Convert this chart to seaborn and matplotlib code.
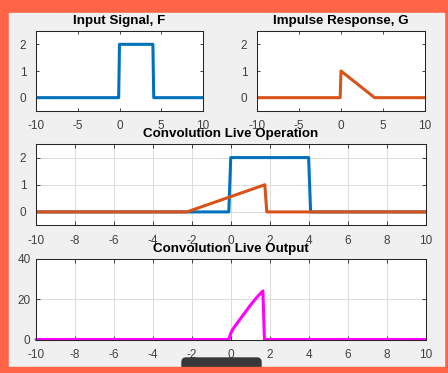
import matplotlib
matplotlib.use('Agg')
import matplotlib.pyplot as plt
import seaborn as sns
from matplotlib.patches import Rectangle, FancyBboxPatch

# input signal F
f_x = [-10, -0.1, 0, 4, 4.1, 10]
f_y = [0, 0, 2, 2, 0, 0]
# impulse response G
g_x = [-10, -0.1, 0, 4, 10]
g_y = [0, 0, 1, 0, 0]
# flipped / shifted G at the current step
gs_x = [-10, -2.25, 1.75, 1.85, 10]
gs_y = [0, 0, 1, 0, 0]
# convolution output so far
out_x = [-10, -0.1, 0.0, 0.1, 0.5, 1.0, 1.3, 1.65, 1.73, 10]
out_y = [0, 0, 3.0, 5.0, 10.3, 16.8, 20.4, 24, 0, 0]

titles = ['Input Signal, F', 'Impulse Response, G',
          'Convolution Live Operation', 'Convolution Live Output']

blue = '#0072BD'
orange = '#D95319'
magenta = '#FF00FF'
dark = '#262626'

sns.set_style('ticks')
plt.rcParams['font.family'] = ['Liberation Sans', 'DejaVu Sans']
plt.rcParams['axes.unicode_minus'] = False

W, H = 448, 373
fig = plt.figure(figsize=(W / 100, H / 100), dpi=100, facecolor='#FF6447')
fig.patches.append(Rectangle((9 / W, 1 - 367 / H), 435 / W, 354 / H,
                             transform=fig.transFigure, color='#F0F0F0', zorder=-10))


def box(l, t, r, b):
    return [l / W, 1 - b / H, (r - l) / W, (b - t) / H]


ax1 = fig.add_axes(box(36, 31, 203, 111))
ax2 = fig.add_axes(box(257, 31, 425, 111))
ax3 = fig.add_axes(box(36, 144, 425.5, 225.5))
ax4 = fig.add_axes(box(36, 258.5, 425.5, 339.5))

lw = 2.2
sns.lineplot(x=f_x, y=f_y, ax=ax1, color=blue, linewidth=lw)
sns.lineplot(x=g_x, y=g_y, ax=ax2, color=orange, linewidth=lw)
sns.lineplot(x=f_x, y=f_y, ax=ax3, color=blue, linewidth=lw)
sns.lineplot(x=gs_x, y=gs_y, ax=ax3, color=orange, linewidth=lw)
sns.lineplot(x=out_x, y=out_y, ax=ax4, color=magenta, linewidth=lw, clip_on=False)

for i, ax in enumerate([ax1, ax2, ax3, ax4]):
    ax.set_facecolor('white')
    ax.set_xlim(-10, 10)
    for s in ax.spines.values():
        s.set_visible(True)
        s.set_color(dark)
        s.set_linewidth(0.75)
    ax.set_title(titles[i], fontsize=9.6, fontweight='bold', color='black', pad=4.8)
    ax.set_xlabel('')
    ax.set_ylabel('')
    small = i < 2
    ax.tick_params(direction='in', top=True, right=True, length=2 if small else 3,
                   width=0.6, colors=dark, labelsize=8.5, labelcolor='#404040')
    ax.tick_params(axis='x', pad=6.5)
    ax.tick_params(axis='y', pad=4 if i == 3 else 7)

for ax in [ax1, ax2]:
    ax.set_xticks([-10, -5, 0, 5, 10])
for ax in [ax1, ax2, ax3]:
    ax.set_ylim(-0.5, 2.5)
    ax.set_yticks([0, 1, 2])
for ax in [ax3, ax4]:
    ax.set_xticks(range(-10, 11, 2))
    ax.grid(True, color='#DCDCDC', linewidth=0.7)
    ax.set_axisbelow(True)
ax4.set_ylim(0, 40)
ax4.set_yticks([0, 20, 40])

# dark tab at the bottom edge of the window
tab = FancyBboxPatch((182 / 100, (H - 372) / 100), 79 / 100, 14 / 100,
                     boxstyle='round,pad=0,rounding_size=0.04',
                     transform=fig.dpi_scale_trans, color='#383838', zorder=5)
fig.patches.append(tab)
fig.patches.append(Rectangle((0, 0), 1, 6 / H, transform=fig.transFigure,
                             color='#FF6447', zorder=6))

fig.savefig('out.png', dpi=100, facecolor=fig.get_facecolor())
